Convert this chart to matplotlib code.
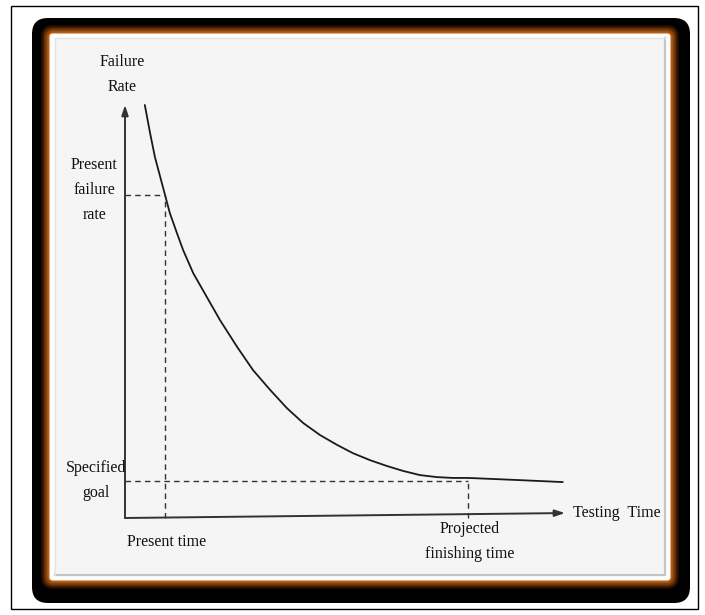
import matplotlib
matplotlib.use("Agg")
import matplotlib.pyplot as plt
from matplotlib.patches import FancyBboxPatch, Rectangle

# ---- data (arbitrary units) ----
curve_time = [0.45, 0.57, 0.68, 0.80, 0.91, 1.02, 1.18, 1.32, 1.55, 1.86,
              2.16, 2.55, 2.91, 3.30, 3.68, 4.05, 4.43, 4.82, 5.18, 5.57,
              5.95, 6.32, 6.70, 7.09, 7.45, 7.80, 8.91, 9.95]
curve_rate = [10.00, 9.32, 8.74, 8.26, 7.82, 7.38, 6.90, 6.49, 5.93, 5.35,
              4.79, 4.14, 3.58, 3.10, 2.66, 2.30, 2.01, 1.77, 1.57, 1.40,
              1.26, 1.14, 1.04, 0.99, 0.97, 0.97, 0.92, 0.87]
present_time = 0.92
present_rate = 7.82
goal_rate = 0.90
finish_time = 7.80
axis_max_x = 10.0
axis_max_y = 10.0

labels = {
    "ylabel": "Failure\nRate",
    "xlabel": "Testing  Time",
    "present_rate": "Present\nfailure\nrate",
    "goal": "Specified\ngoal",
    "present_time": "Present time",
    "finish": "Projected\nfinishing time",
}

W, H = 705, 615
fig = plt.figure(figsize=(W / 100, H / 100), dpi=100)
fig.patch.set_facecolor("white")

# ---- decorative frame (figure-pixel coordinates) ----
bg = fig.add_axes([0, 0, 1, 1])
bg.set_xlim(0, W)
bg.set_ylim(H, 0)
bg.axis("off")

bg.add_patch(Rectangle((11, 6), 687, 603, fill=False, ec="black", lw=1.0))

def rbox(x0, y0, x1, y1, r, color):
    p = FancyBboxPatch((x0 + r, y0 + r), (x1 - x0) - 2 * r, (y1 - y0) - 2 * r,
                       boxstyle=f"round,pad={r}", fc=color, ec="none")
    bg.add_patch(p)

rbox(32, 18, 690, 603, 16, "#000000")
rbox(41, 25, 679, 589, 11, "#1a0900")
rbox(42.5, 26.5, 677.5, 587.5, 10, "#3c1b02")
rbox(44, 28, 676, 586, 9, "#622e06")
rbox(45.5, 29.5, 674.5, 584.5, 8, "#87400b")
rbox(47, 31, 673, 583, 7, "#a8520f")
rbox(48.2, 32.2, 671.8, 581.8, 6, "#bd6016")
rbox(49.5, 33.5, 670.5, 580.5, 3, "#fdfdfd")
bg.add_patch(Rectangle((55, 38), 610, 537, fc="#f5f5f5", ec="none"))
bg.plot([55, 665, 665], [575, 575, 38], color="#c4c4c4", lw=1.6)
bg.plot([55, 55, 665], [575, 38, 38], color="#e2e2e2", lw=1.0)

# ---- chart axes ----
ax = fig.add_axes([125 / W, (H - 518) / H, 440 / W, 413 / H])
ax.set_xlim(0, axis_max_x)
ax.set_ylim(0, axis_max_y)
ax.axis("off")
ax.patch.set_alpha(0)

ink = "#1a1a1a"
ax.annotate("", xy=(0, axis_max_y), xytext=(0, 0),
            arrowprops=dict(arrowstyle="-|>,head_length=0.6,head_width=0.2",
                            color="#333333", lw=1.4, shrinkA=0, shrinkB=0))
ax.annotate("", xy=(axis_max_x, 0.12), xytext=(0, 0),
            arrowprops=dict(arrowstyle="-|>,head_length=0.6,head_width=0.2",
                            color="#333333", lw=1.4, shrinkA=0, shrinkB=0))

ax.plot(curve_time, curve_rate, color=ink, lw=1.3, clip_on=False,
        solid_joinstyle="round", solid_capstyle="round")

dash = dict(color="#333333", lw=1.0, ls=(0, (4, 3)), clip_on=False)
ax.plot([0, present_time], [present_rate, present_rate], **dash)
ax.plot([present_time, present_time], [0, present_rate], **dash)
ax.plot([0, finish_time], [goal_rate, goal_rate], **dash)
ax.plot([finish_time, finish_time], [0, goal_rate + 0.05], **dash)

font = dict(family=["Liberation Serif", "DejaVu Serif"], fontsize=11.5,
            color="#111111")
ax.text(-0.07, 10.73, labels["ylabel"], ha="center", va="center",
        linespacing=1.75, **font)
ax.text(-0.70, 7.94, labels["present_rate"], ha="center", va="center",
        linespacing=1.75, **font)
ax.text(-0.66, 0.92, labels["goal"], ha="center", va="center",
        linespacing=1.75, **font)
ax.text(0.95, -0.58, labels["present_time"], ha="center", va="center", **font)
ax.text(7.84, -0.58, labels["finish"], ha="center", va="center",
        linespacing=1.75, **font)
ax.text(10.18, 0.12, labels["xlabel"], ha="left", va="center", **font)

fig.savefig("out.png", dpi=100)
